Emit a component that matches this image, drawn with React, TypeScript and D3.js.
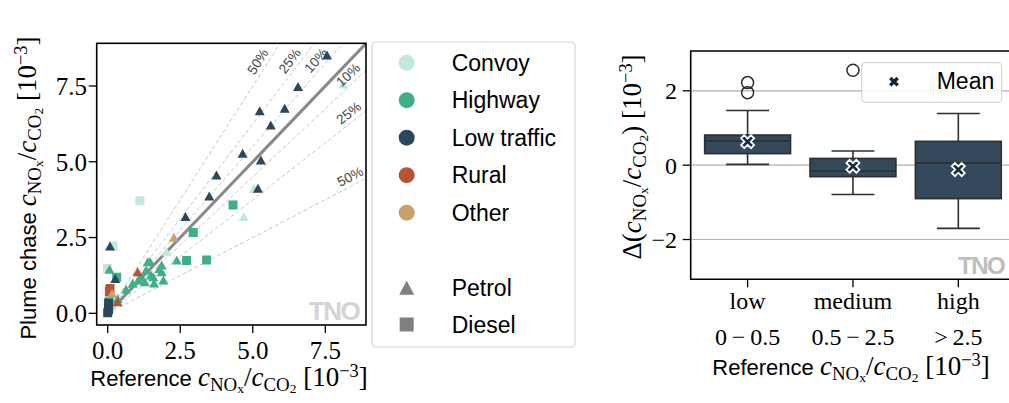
import React from 'react';
import * as d3 from 'd3';

// ---------- data ----------
const convoyPetrol: [number, number][] = [[8.11, 7.57], [4.69, 3.19], [5.04, 4.13], [2.03, 2.03]];
const convoyDiesel: [number, number][] = [[1.11, 3.71], [0.19, 2.22], [-0.01, 1.48]];
const highwayPetrol: [number, number][] = [
  [2.38, 1.76], [1.46, 1.71], [1.86, 1.59], [1.86, 1.37], [1.92, 1.1], [1.57, 1.21],
  [1.38, 1.7], [1.32, 1.43], [1.78, 1.48], [1.49, 1.26], [1.15, 1.21], [1.28, 1.04],
  [0.86, 0.99], [0.63, 0.79], [0.06, 1.45], [0.06, 0.71], [0.34, 0.49], [1.6, 1.0], [1.05, 1.1],
];
const highwayDiesel: [number, number][] = [[4.32, 3.57], [2.95, 2.67], [2.72, 1.74], [3.41, 1.76], [0.31, 1.19], [0.05, 0.4]];
const lowTrafficPetrol: [number, number][] = [
  [7.56, 8.52], [6.56, 7.48], [5.24, 6.68], [6.1, 6.77], [5.62, 6.21], [4.65, 5.28],
  [5.28, 5.06], [3.75, 4.56], [3.5, 3.87], [5.18, 4.13], [2.68, 3.19], [0.08, 2.22], [0.26, 1.15],
];
const lowTrafficDiesel: [number, number][] = [[0.0, 0.02], [0.03, 0.12], [0.03, 0.33]];
const ruralPetrol: [number, number][] = [[1.03, 1.37], [0.34, 0.38]];
const ruralDiesel: [number, number][] = [[0.08, 0.82], [0.06, 0.72]];
const otherPetrol: [number, number][] = [[2.28, 2.51], [0.15, 0.66]];
const otherDiesel: [number, number][] = [];

const groupNames = ['Convoy', 'Highway', 'Low traffic', 'Rural', 'Other'];
const groupColors = ['#c2e7df', '#3fae8b', '#2b475c', '#b95433', '#c9a16b'];
const groupPetrol = [convoyPetrol, highwayPetrol, lowTrafficPetrol, ruralPetrol, otherPetrol];
const groupDiesel = [convoyDiesel, highwayDiesel, lowTrafficDiesel, ruralDiesel, otherDiesel];
const fuelNames = ['Petrol', 'Diesel'];

const refTicks = [0, 2.5, 5, 7.5];
const deviationFractions = [0.5, 0.25, 0.1];
const deviationLabels = ['50%', '25%', '10%'];

const boxCategories = ['low', 'medium', 'high'];
const boxRanges = ['0\u2009\u2212\u20090.5', '0.5\u2009\u2212\u20092.5', '>\u20092.5'];
const boxQ1 = [0.31, -0.31, -0.9];
const boxMedian = [0.65, -0.16, 0.06];
const boxQ3 = [0.81, 0.18, 0.64];
const whiskerLow = [0.02, -0.79, -1.7];
const whiskerHigh = [1.47, 0.38, 1.39];
const boxMean = [0.63, -0.03, -0.12];
const boxOutliers = [[1.95, 2.22], [2.55], []];
const diffTicks = [-2, 0, 2];

// ---------- helpers ----------
const SERIF = 'Liberation Serif';
const SANS = 'Liberation Sans';

type Part = { t: string; s?: number; sh?: number; it?: boolean; sans?: boolean };

function MathText({ x, y, parts, size, anchor = 'middle', rotate = 0 }: {
  x: number; y: number; parts: Part[]; size: number; anchor?: string; rotate?: number;
}) {
  let prev = 0;
  return (
    <text x={x} y={y} textAnchor={anchor} fontFamily={SERIF} fontSize={size} fill="#000"
      style={{ whiteSpace: 'pre' }}
      transform={rotate ? `rotate(${rotate},${x},${y})` : undefined}>
      {parts.map((p, i) => {
        const sh = (p.sh ?? 0) * size;
        const dy = sh - prev;
        prev = sh;
        return (
          <tspan key={i} dy={dy} fontSize={(p.s ?? 1) * size}
            fontStyle={p.it ? 'italic' : 'normal'} fontFamily={p.sans ? SANS : SERIF}>{p.t}</tspan>
        );
      })}
    </text>
  );
}

const ratioParts: Part[] = [
  { t: 'c', it: true },
  { t: 'NO', s: 0.7, sh: 0.18 },
  { t: 'x', s: 0.5, sh: 0.26 },
  { t: '/', sh: 0 },
  { t: 'c', it: true },
  { t: 'CO', s: 0.7, sh: 0.18 },
  { t: '2', s: 0.5, sh: 0.26 },
  { t: ' [10', sh: 0 },
  { t: '\u22123', s: 0.68, sh: -0.33 },
  { t: ']', sh: 0 },
];

const LABEL_MATH = 27;
const LABEL_SANS = 22 / 27;

function triPath(w: number, h: number) {
  return `M0,${-h / 2}L${w / 2},${h / 2}L${-w / 2},${h / 2}Z`;
}
function sqPath(s: number) {
  return `M${-s / 2},${-s / 2}h${s}v${s}h${-s}Z`;
}
function xPath(L: number, w: number) {
  const pts = [[w, L], [w, w], [L, w], [L, -w], [w, -w], [w, -L], [-w, -L], [-w, -w], [-L, -w], [-L, w], [-w, w], [-w, L]];
  const c = Math.SQRT1_2;
  return 'M' + pts.map(([a, b]) => `${(a * c - b * c).toFixed(2)},${(a * c + b * c).toFixed(2)}`).join('L') + 'Z';
}

export default function App() {
  // left scatter
  const xL = d3.scaleLinear().domain([-0.379, 8.903]).range([96.7, 366]);
  const yL = d3.scaleLinear().domain([-0.386, 8.909]).range([325, 43.3]);
  const [lx0, lx1] = xL.range();
  const [ly0, ly1] = yL.range();

  // right box plot
  const xR = d3.scaleLinear().domain([-0.54, 2.5]).range([690.7, 1011]);
  const yR = d3.scaleLinear().domain([-3.07, 3.07]).range([279.3, 51]);
  const rx0 = 690.7, rx1 = 1012;
  const ry0 = yR.range()[0], ry1 = yR.range()[1];
  const band = xR(1) - xR(0);
  const boxW = band * 0.815;
  const capW = boxW / 2;

  const lineGen = d3.line<[number, number]>().x(d => xL(d[0])).y(d => yL(d[1]));

  const slopes: { k: number; label: string; upper: boolean }[] = [];
  deviationFractions.forEach((f, i) => {
    slopes.push({ k: 1 + f, label: deviationLabels[i], upper: true });
    slopes.push({ k: 1 - f, label: deviationLabels[i], upper: false });
  });

  const kx = (xL(1) - xL(0));
  const ky = (yL(0) - yL(1));

  return (
    <svg width={1009} height={403} style={{ position: 'absolute', left: 0, top: 0 }}
      xmlns="http://www.w3.org/2000/svg">
      <rect x={0} y={0} width={1009} height={403} fill="#fff" />
      <defs>
        <clipPath id="clipL">
          <rect x={lx0} y={ly1} width={lx1 - lx0} height={ly0 - ly1} />
        </clipPath>
      </defs>

      {/* ===== Left panel ===== */}
      <g clipPath="url(#clipL)">
        {slopes.map((s, i) => (
          <path key={i} d={lineGen([[0, 0], [10, 10 * s.k]]) || ''} fill="none"
            stroke="#c8c8c8" strokeWidth={1} strokeDasharray="4,2.5" />
        ))}
        <path d={lineGen([[0.25, 0.25], [9.5, 9.5]]) || ''} stroke="#888" strokeWidth={3} fill="none" />
        {groupNames.map((g, gi) => (
          <g key={g} fill={groupColors[gi]}>
            {groupPetrol[gi].map((p, i) => (
              <path key={'p' + i} d={triPath(10, 9)} transform={`translate(${xL(p[0])},${yL(p[1])})`} />
            ))}
            {groupDiesel[gi].map((p, i) => (
              <path key={'d' + i} d={sqPath(9)} transform={`translate(${xL(p[0])},${yL(p[1])})`} />
            ))}
          </g>
        ))}
        <text x={334} y={320} textAnchor="middle" fontFamily={SANS} fontWeight="bold" fontSize={26}
          letterSpacing={-1.5} fill="#d4d4d4">TNO</text>
      </g>
      {/* deviation labels */}
      {slopes.map((s, i) => {
        let px: number, py: number;
        if (s.upper) {
          const yd = 8.15;
          px = xL(yd / s.k); py = yL(yd);
        } else {
          const xd = 8.5;
          px = xL(xd); py = yL(xd * s.k);
        }
        const ang = Math.atan(s.k * ky / kx);
        const nx = -Math.sin(ang), ny = -Math.cos(ang);
        const cx = px + nx * 9, cy = py + ny * 9;
        return (
          <text key={'l' + i} x={cx} y={cy} dy="0.35em" textAnchor="middle" fontFamily={SANS}
            fontSize={13.5} fill="#444" transform={`rotate(${-ang * 180 / Math.PI},${cx},${cy})`}>{s.label}</text>
        );
      })}
      <rect x={lx0} y={ly1} width={lx1 - lx0} height={ly0 - ly1} fill="none" stroke="#000" strokeWidth={1.6} />
      {refTicks.map(t => (
        <g key={'xt' + t}>
          <line x1={xL(t)} x2={xL(t)} y1={ly0} y2={ly0 + 8} stroke="#000" strokeWidth={1.3} />
          <text x={xL(t)} y={359} textAnchor="middle" fontFamily={SERIF} fontSize={25}>{d3.format('.1f')(t)}</text>
          <line x1={lx0} x2={lx0 - 8} y1={yL(t)} y2={yL(t)} stroke="#000" strokeWidth={1.3} />
          <text x={87} y={yL(t)} dy="0.35em" textAnchor="end" fontFamily={SERIF} fontSize={25}>{d3.format('.1f')(t)}</text>
        </g>
      ))}
      <MathText x={229} y={386} size={LABEL_MATH} parts={[{ t: 'Reference ', sans: true, s: LABEL_SANS }, ...ratioParts]} />
      <MathText x={36} y={188} size={LABEL_MATH} rotate={-90} parts={[{ t: 'Plume chase ', sans: true, s: LABEL_SANS }, ...ratioParts]} />

      {/* legend */}
      <rect x={372} y={42} width={203} height={305} rx={4} fill="#fff" stroke="#d6d6d6" strokeWidth={1.2} />
      {groupNames.map((g, i) => (
        <g key={'lg' + g}>
          <circle cx={406.7} cy={62.7 + i * 37.5} r={8} fill={groupColors[i]} />
          <text x={451.7} y={62.7 + i * 37.5 + 8} fontFamily={SANS} fontSize={23}>{g}</text>
        </g>
      ))}
      {fuelNames.map((f, i) => {
        const cy = 287.7 + i * 36.8;
        return (
          <g key={'lf' + f}>
            <path d={i === 0 ? triPath(15, 14) : sqPath(14)} transform={`translate(406.7,${cy})`} fill="#808080" />
            <text x={451.7} y={cy + 8} fontFamily={SANS} fontSize={23}>{f}</text>
          </g>
        );
      })}

      {/* ===== Right panel ===== */}
      {diffTicks.map(t => (
        <line key={'g' + t} x1={rx0} x2={rx1} y1={yR(t)} y2={yR(t)} stroke="#b0b0b0" strokeWidth={1.2} />
      ))}
      {boxCategories.map((c, i) => {
        const cx = xR(i);
        return (
          <g key={'b' + c} stroke="#2e2e2e" strokeWidth={1.6}>
            <line x1={cx} x2={cx} y1={yR(boxQ3[i])} y2={yR(whiskerHigh[i])} />
            <line x1={cx} x2={cx} y1={yR(boxQ1[i])} y2={yR(whiskerLow[i])} />
            <line x1={cx - capW / 2} x2={cx + capW / 2} y1={yR(whiskerHigh[i])} y2={yR(whiskerHigh[i])} />
            <line x1={cx - capW / 2} x2={cx + capW / 2} y1={yR(whiskerLow[i])} y2={yR(whiskerLow[i])} />
            <rect x={cx - boxW / 2} y={yR(boxQ3[i])} width={boxW} height={yR(boxQ1[i]) - yR(boxQ3[i])} fill="#34495b" />
            <line x1={cx - boxW / 2} x2={cx + boxW / 2} y1={yR(boxMedian[i])} y2={yR(boxMedian[i])} />
            {boxOutliers[i].map((o, j) => (
              <circle key={j} cx={cx} cy={yR(o)} r={6} fill="none" strokeWidth={1.5} />
            ))}
            <path d={xPath(7, 2.2)} transform={`translate(${cx},${yR(boxMean[i])})`} fill="#13293d" stroke="#fff" strokeWidth={1.8} />
          </g>
        );
      })}
      <text x={958} y={273.5} fontFamily={SANS} fontWeight="bold" fontSize={24} letterSpacing={-1.5} fill="#bdbdbd">TNO</text>
      <path d={`M${rx1},${ry1}H${rx0}V${ry0}H${rx1}`} fill="none" stroke="#000" strokeWidth={1.6} />
      {diffTicks.map(t => (
        <g key={'yt' + t}>
          <line x1={rx0} x2={rx0 - 8} y1={yR(t)} y2={yR(t)} stroke="#000" strokeWidth={1.3} />
          <text x={677} y={yR(t)} dy="0.35em" textAnchor="end" fontFamily={SERIF} fontSize={24}>{t < 0 ? '\u2212' + Math.abs(t) : String(t)}</text>
        </g>
      ))}
      {boxCategories.map((c, i) => (
        <g key={'xc' + c}>
          <line x1={xR(i)} x2={xR(i)} y1={ry0} y2={ry0 + 8} stroke="#000" strokeWidth={1.3} />
          <text x={xR(i)} y={309} textAnchor="middle" fontFamily={SERIF} fontSize={24}>{c}</text>
          <text x={xR(i)} y={345} textAnchor="middle" fontFamily={SERIF} fontSize={24} style={{ whiteSpace: 'pre' }}>{boxRanges[i]}</text>
        </g>
      ))}
      <MathText x={851} y={375} size={LABEL_MATH} parts={[{ t: 'Reference ', sans: true, s: LABEL_SANS }, ...ratioParts]} />
      <MathText x={641} y={157} size={LABEL_MATH} rotate={-90} parts={[
        { t: '\u0394(' }, ...ratioParts.slice(0, 7), { t: ')', sh: 0 }, ...ratioParts.slice(7)]} />

      {/* mean legend */}
      <rect x={861.7} y={62.7} width={140} height={39.6} rx={4} fill="#fff" fillOpacity={0.85} stroke="#d6d6d6" strokeWidth={1.2} />
      <path d={xPath(5.2, 1.7)} transform="translate(894,81.7)" fill="#0d2535" />
      <text x={936.7} y={89} fontFamily={SANS} fontSize={23}>Mean</text>
    </svg>
  );
}
